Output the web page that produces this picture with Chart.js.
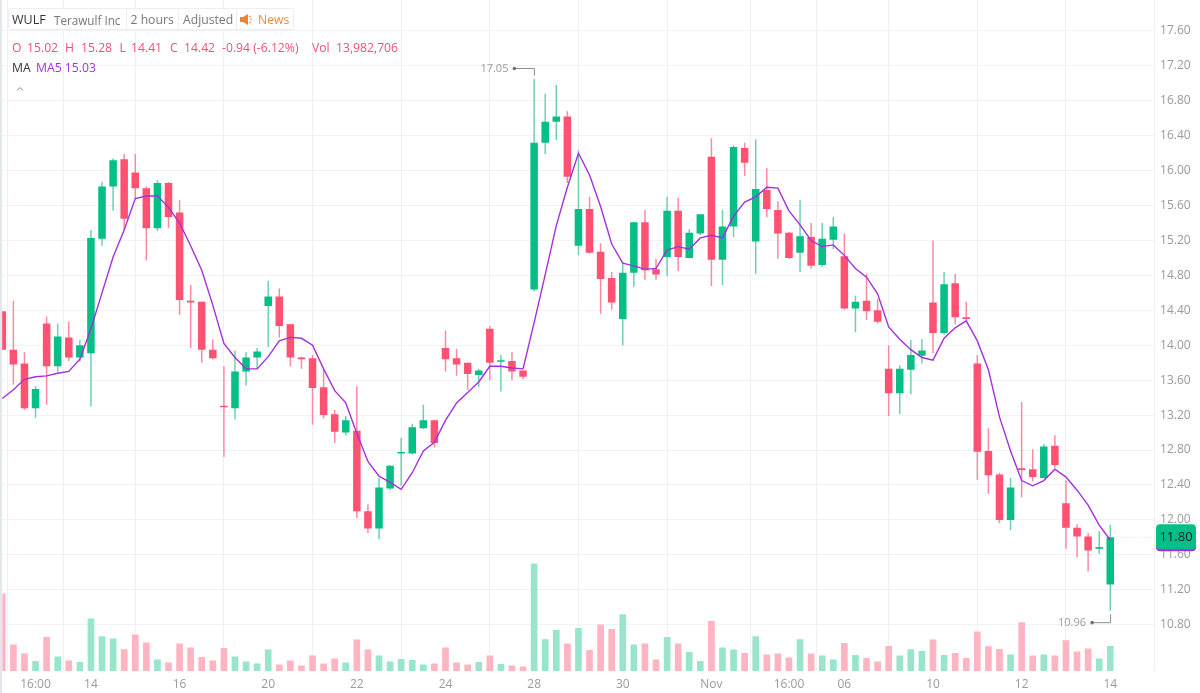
<!DOCTYPE html>
<html><head><meta charset="utf-8">
<script src="https://cdn.jsdelivr.net/npm/chart.js@4"></script>
<style>
html,body{margin:0;padding:0;background:#fff;width:1200px;height:693px;overflow:hidden;font-family:"Open Sans",sans-serif}
canvas{position:absolute;left:0;top:0;display:block}
.t{position:absolute;white-space:nowrap;line-height:16px;font-size:12.2px}
#edge{position:absolute;left:0;top:0;width:1.5px;height:693px;background:#e2e6ed}
#bar{position:absolute;left:8px;top:8px;width:284px;height:20px;border:1px solid #eeeef0;border-radius:3px;background:rgba(255,255,255,.85)}
.d{position:absolute;top:9px;width:1px;height:20px;background:#eeeef0}
.g{color:#777}.r{color:#f0516f}.o{color:#f08a3c}
</style></head><body>
<canvas id="c" width="1200" height="693"></canvas>
<div id="edge"></div>
<div id="bar"></div><div class="d" style="left:126px"></div><div class="d" style="left:178px"></div><div class="d" style="left:236px"></div>
<div class="t" style="left:12px;top:12px;color:#333;font-size:12.5px">WULF</div>
<div class="t g" style="left:54px;top:12px;font-size:11.7px">Terawulf Inc</div>
<div class="t g" style="left:130.5px;top:12px">2 hours</div>
<div class="t g" style="left:183px;top:12px">Adjusted</div>
<svg style="position:absolute;left:239px;top:13px" width="15" height="13" viewBox="0 0 15 13"><path d="M1 4h3l5-3v11L4 9H1z" fill="#f0842c"/><circle cx="11" cy="3.5" r=".9" fill="#f0a060"/><circle cx="12" cy="6.5" r=".9" fill="#f0a060"/><circle cx="11" cy="9.5" r=".9" fill="#f0a060"/></svg>
<div class="t o" style="left:258px;top:12px">News</div>
<div class="t r" style="left:12px;top:40px">O</div><div class="t r" style="left:27px;top:40px">15.02</div>
<div class="t r" style="left:65px;top:40px">H</div><div class="t r" style="left:81px;top:40px">15.28</div>
<div class="t r" style="left:119.5px;top:40px">L</div><div class="t r" style="left:131px;top:40px">14.41</div>
<div class="t r" style="left:170px;top:40px">C</div><div class="t r" style="left:184px;top:40px">14.42</div>
<div class="t r" style="left:222px;top:40px">-0.94 (-6.12%)</div>
<div class="t r" style="left:312px;top:40px">Vol</div><div class="t r" style="left:336px;top:40px">13,982,706</div>
<div class="t" style="left:12px;top:60px;color:#333">MA</div>
<div class="t" style="left:36px;top:60px;color:#a52fe0">MA5 15.03</div>
<svg style="position:absolute;left:16px;top:86px" width="8" height="6" viewBox="0 0 8 6"><path d="M1 4.5L4 1.5L7 4.5" fill="none" stroke="#888" stroke-width="1"/></svg>
<script>
const opens=[14.39,13.95,13.79,13.28,14.25,13.76,14.09,13.86,13.91,15.22,15.82,16.13,15.98,15.80,15.34,15.86,15.52,14.51,14.50,13.95,13.30,13.28,13.70,13.86,14.45,14.56,14.24,13.86,13.85,13.52,13.21,13.00,13.02,12.10,11.90,12.36,12.76,12.76,13.05,13.14,13.97,13.85,13.80,13.66,14.19,13.81,13.82,13.71,14.64,16.32,16.56,16.62,15.14,15.56,15.07,14.77,14.30,14.83,15.41,14.87,15.01,15.54,15.00,15.28,16.16,14.98,15.36,16.26,15.19,15.78,15.55,15.29,15.06,15.24,14.92,15.21,15.02,14.42,14.51,14.40,13.73,13.45,13.72,13.88,14.49,14.14,14.71,14.32,13.79,12.79,12.52,12.00,12.59,12.58,12.48,12.85,12.19,11.91,11.81,11.67,11.26];
const highs=[14.39,14.51,13.92,13.53,14.33,14.25,14.27,14.06,15.32,15.87,16.14,16.19,16.19,15.82,15.89,15.87,15.66,14.69,14.50,14.07,13.76,13.94,13.92,13.97,14.74,14.65,14.24,13.87,13.89,13.73,13.26,13.19,13.53,12.18,12.48,12.63,12.94,13.10,13.32,13.14,14.17,13.96,13.80,13.73,14.22,13.89,13.92,13.71,17.05,16.88,16.98,16.68,16.23,15.70,15.17,14.84,14.95,15.41,15.55,14.99,15.70,15.69,15.33,15.50,16.37,15.55,16.29,16.32,16.36,16.03,15.65,15.30,15.66,15.40,15.40,15.47,15.28,14.57,14.82,14.53,14.00,13.77,14.06,14.07,15.20,14.84,14.82,14.50,13.89,13.05,12.54,12.48,13.35,12.81,12.87,12.97,12.45,11.95,11.85,11.87,11.94];
const lows=[13.95,13.55,13.26,13.17,13.32,13.69,13.82,13.81,13.30,15.14,15.54,15.32,15.68,14.97,15.31,15.34,14.35,13.97,13.80,13.84,12.72,13.15,13.54,13.73,13.98,14.09,13.76,13.73,13.09,13.16,12.88,12.97,12.02,11.85,11.78,12.34,12.39,12.75,13.04,12.83,13.70,13.65,13.49,13.52,13.60,13.47,13.60,13.61,14.62,16.19,16.35,15.86,15.03,15.05,14.36,14.41,14.00,14.67,14.75,14.75,14.79,14.85,15.00,15.26,14.68,14.69,15.24,15.94,14.82,15.47,14.99,14.99,14.84,14.88,14.90,15.10,14.41,14.15,14.29,14.25,13.19,13.21,13.44,13.79,13.91,14.12,14.24,14.29,12.46,12.30,11.96,11.88,12.26,12.44,12.47,12.59,11.67,11.57,11.41,11.61,10.96];
const closes=[13.95,13.78,13.28,13.50,13.76,14.10,13.86,14.00,15.23,15.82,16.12,15.45,15.80,15.34,15.86,15.47,14.52,14.49,13.95,13.85,13.29,13.70,13.86,13.93,14.56,14.22,13.86,13.84,13.51,13.20,13.01,13.14,12.10,11.90,12.37,12.62,12.77,13.06,13.14,12.88,13.84,13.78,13.67,13.71,13.80,13.82,13.70,13.64,16.32,16.56,16.62,15.93,15.56,15.06,14.76,14.49,14.83,15.41,14.86,14.81,15.54,15.01,15.29,15.50,14.98,15.36,16.27,16.09,15.79,15.56,15.28,15.00,15.25,14.91,15.22,15.36,14.42,14.50,14.39,14.27,13.45,13.73,13.89,13.94,14.14,14.70,14.32,14.30,12.78,12.51,12.00,12.37,12.57,12.49,12.84,12.63,11.91,11.81,11.65,11.68,11.80];
const ma5=[13.39,13.49,13.61,13.64,13.65,13.68,13.70,13.84,14.19,14.60,15.01,15.32,15.68,15.71,15.71,15.58,15.40,15.14,14.86,14.46,14.02,13.86,13.73,13.73,13.87,14.05,14.09,14.08,14.00,13.73,13.48,13.34,12.99,12.67,12.50,12.43,12.35,12.54,12.79,12.89,13.14,13.34,13.46,13.58,13.76,13.76,13.74,13.73,14.26,14.81,15.37,15.81,16.20,15.95,15.59,15.16,14.94,14.91,14.87,14.88,15.09,15.13,15.10,15.23,15.26,15.23,15.48,15.64,15.70,15.81,15.80,15.54,15.38,15.20,15.13,15.15,15.03,14.88,14.78,14.59,14.21,14.07,13.95,13.86,13.83,14.08,14.20,14.28,14.05,13.72,13.18,12.79,12.45,12.39,12.45,12.58,12.49,12.34,12.17,11.94,11.77];
const volumesM=[38.7,13.2,8.7,5,17,7.3,5.3,4.5,26.2,17.3,16.2,10.8,18.2,14.2,5.7,4.2,13.7,11.7,7,5.2,11.5,7.2,4.8,3.7,10.7,3.3,5.3,2.8,7.7,3.8,6.2,4.3,15.7,10.7,7.8,4.8,6,5.5,3.3,3.7,11.7,4.3,3.3,4.5,7.8,3.5,2.7,2.3,53.7,15.8,20.5,13.7,21.5,10.5,23.2,21,28.3,13.2,13.7,5.7,17,13.7,9.5,5,25,11.7,10.7,9,17.3,8.3,8.7,6.7,15.8,8.7,7.7,5.8,14,8,6.5,4.7,12.5,7.7,10.8,10,15.7,8,9,6.5,19.7,12.3,11,8.3,24.3,7.8,8.2,7.8,15.3,9.7,11.2,6.2,12.5];
const tickIndex=[3,8,16,24,32,40,48,56,64,71,76,84,92,100];
const tickText=['16:00','14','16','20','22','24','28','30','Nov','16:00','06','10','12','14'];
const priceTicks=[17.6,17.2,16.8,16.4,16.0,15.6,15.2,14.8,14.4,14.0,13.6,13.2,12.8,12.4,12.0,11.6,11.2,10.8];
const lastPrice=11.80;

const UP='#05bf87',DOWN='#ff5272',UPW='#6fd0b0',DOWNW='#f98aa0',UPV='#98e5cc',DOWNV='#ffb4c2';
const categories=new Array(105).fill('');
tickIndex.forEach((v,k)=>{categories[v]=tickText[k];});
const up=i=>closes[i]>=opens[i];
const FONT='"Open Sans",sans-serif';

const extras={id:'extras',afterDraw(ch){
  const c=ch.ctx,x=ch.scales.x,y=ch.scales.y;
  c.save();
  const hiI=highs.indexOf(Math.max(...highs)),loI=lows.indexOf(Math.min(...lows));
  c.font='11px '+FONT;c.textBaseline='middle';
  const mark=(i,val,dir,drop,run,gap)=>{
    const px=x.getPixelForValue(i)+0.3,py=y.getPixelForValue(val),ly=py+dir*drop;
    c.strokeStyle='#8a8f96';c.lineWidth=1;
    c.beginPath();c.moveTo(px,py+dir*3.5);c.lineTo(px,ly);c.lineTo(px-run,ly);c.stroke();
    c.fillStyle='#6d7278';c.beginPath();c.arc(px-run,ly,1.8,0,7);c.fill();
    c.fillStyle='#9a9a9a';c.textAlign='right';c.fillText(val.toFixed(2),px-run-gap,ly+0.3);
  };
  mark(hiI,highs[hiI],-1,10.5,20,6);
  mark(loI,lows[loI],1,12,18.5,6);
  const ly=y.getPixelForValue(lastPrice),lx=x.getPixelForValue(closes.length-1);
  c.setLineDash([1,2]);c.strokeStyle='#bfe6d8';c.beginPath();c.moveTo(lx+4,ly);c.lineTo(ch.chartArea.right+2,ly);c.stroke();
  c.setLineDash([]);
  c.fillStyle='#a52fe0';c.beginPath();c.roundRect(1156,ly-11,40,25,4);c.fill();
  c.fillStyle=UP;c.beginPath();c.roundRect(1156,ly-13,40,25,4);c.fill();
  c.fillStyle='#10261f';c.font='13px '+FONT;c.textAlign='center';c.fillText(lastPrice.toFixed(2),1176,ly);
  c.restore();
}};

new Chart(document.getElementById('c'),{
  type:'bar',
  plugins:[extras],
  data:{labels:categories,datasets:[
    {type:'line',label:'MA5',data:ma5,yAxisID:'y',borderColor:'#a52fe0',borderWidth:1.4,pointRadius:0,tension:0,order:1},
    {label:'Body',data:opens.map((o,i)=>[o,closes[i]]),yAxisID:'y',grouped:false,barPercentage:0.68,categoryPercentage:1,minBarLength:1.6,
      backgroundColor:c=>up(c.dataIndex)?UP:DOWN,order:2},
    {label:'Wick',data:lows.map((l,i)=>[l,highs[i]]),yAxisID:'y',grouped:false,barPercentage:0.135,categoryPercentage:1,
      backgroundColor:c=>up(c.dataIndex)?UPW:DOWNW,order:3},
    {label:'Volume',data:volumesM,yAxisID:'v',grouped:false,barPercentage:0.6,categoryPercentage:1,
      backgroundColor:c=>up(c.dataIndex)?UPV:DOWNV,order:4}
  ]},
  options:{
    responsive:false,animation:false,
    layout:{padding:{left:2.3,right:0,top:0,bottom:0}},
    plugins:{legend:{display:false},tooltip:{enabled:false}},
    scales:{
      x:{type:'category',offset:false,
        grid:{color:'#eff0f4',lineWidth:1,drawTicks:false},border:{display:false},
        afterBuildTicks:s=>{s.ticks=tickIndex.map(v=>({value:v}));},
        afterFit:s=>{s.height=22;s.paddingLeft=0;s.paddingRight=0;},
        ticks:{autoSkip:false,maxRotation:0,minRotation:0,padding:6,color:'#9a9a9a',font:{family:FONT,size:12},callback:v=>categories[v]}
      },
      y:{type:'linear',position:'right',min:10.269,max:17.955,
        grid:{color:'#f1f2f5',lineWidth:1,drawTicks:false},border:{display:false},
        afterBuildTicks:s=>{s.ticks=priceTicks.map(v=>({value:v}));},
        afterFit:s=>{s.width=45.4;s.paddingTop=0;s.paddingBottom=0;},
        ticks:{autoSkip:false,padding:5.5,color:'#9a9a9a',font:{family:FONT,size:12},callback:v=>v.toFixed(2)}
      },
      v:{type:'linear',display:false,min:0,max:335}
    }
  }
});
</script>
</body></html>
